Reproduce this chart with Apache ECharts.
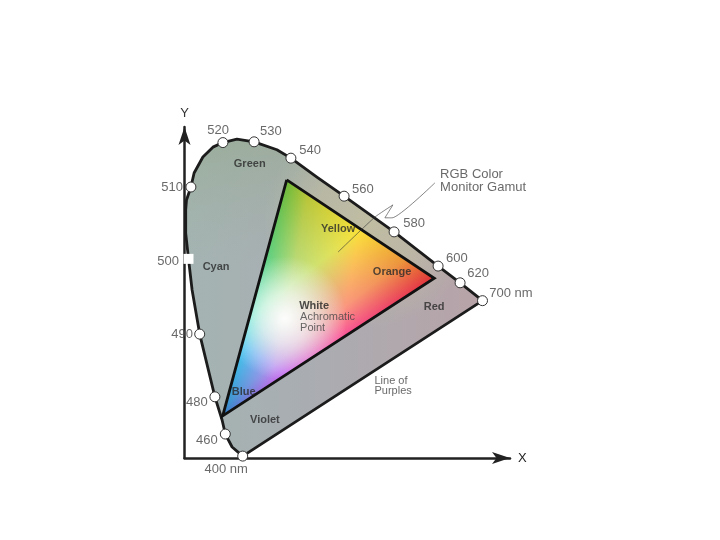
<!DOCTYPE html>
<html>
<head>
<meta charset="utf-8">
<style>
  html, body { margin: 0; padding: 0; background: #fff; }
  #chart { width: 720px; height: 540px; }
</style>
<script src="https://cdn.jsdelivr.net/npm/echarts@6/dist/echarts.min.js"></script>
</head>
<body>
<div id="chart"></div>
<script>
// spectral locus outline
const locusX = [0.1455, 0.119, 0.102, 0.094, 0.076, 0.038, 0.019, 0.010, 0.003, 0.003, 0.005, 0.016, 0.024, 0.046, 0.071, 0.096, 0.131, 0.174, 0.231, 0.266, 0.331, 0.399, 0.524, 0.634, 0.689, 0.745]
const locusY = [0.005, 0.029, 0.063, 0.100, 0.161, 0.326, 0.442, 0.524, 0.592, 0.653, 0.679, 0.713, 0.750, 0.792, 0.818, 0.830, 0.839, 0.832, 0.811, 0.789, 0.739, 0.689, 0.595, 0.505, 0.461, 0.414]

// wavelength markers
const markerX = [0.1455, 0.102, 0.076, 0.038, 0.010, 0.016, 0.096, 0.174, 0.266, 0.399, 0.524, 0.634, 0.689, 0.745]
const markerY = [0.005, 0.063, 0.161, 0.326, 0.524, 0.713, 0.830, 0.832, 0.789, 0.689, 0.595, 0.505, 0.461, 0.414]

// monitor gamut corners: green, red, blue, and the white point
const gamutX = [0.2555, 0.6245, 0.0955]
const gamutY = [0.732, 0.473, 0.111]
const whitePoint = [0.251, 0.368]

const tickNames = ['400 nm', '460', '480', '490', '500', '510', '520', '530', '540', '560', '580', '600', '620', '700 nm']
const tickX = [0.104, 0.056, 0.031, -0.006, -0.041, -0.031, 0.084, 0.216, 0.314, 0.446, 0.574, 0.681, 0.734, 0.816]
const tickY = [-0.029, 0.047, 0.146, 0.324, 0.516, 0.711, 0.863, 0.859, 0.809, 0.708, 0.616, 0.526, 0.487, 0.434]

const regionNames = ['Green', 'Cyan', 'Yellow', 'Orange', 'Red', 'Blue', 'Violet']
const regionX = [0.163, 0.079, 0.384, 0.519, 0.624, 0.148, 0.201]
const regionY = [0.774, 0.503, 0.603, 0.489, 0.397, 0.174, 0.100]

const noteNames = ['Achromatic', 'Point', 'Line of', 'Purples']
const noteX = [0.289, 0.289, 0.475, 0.475]
const noteY = [0.371, 0.342, 0.203, 0.176]

const calloutNames = ['RGB Color', 'Monitor Gamut']
const calloutX = [0.639, 0.639]
const calloutY = [0.747, 0.713]

const leaderX = [0.384, 0.476, 0.521, 0.501, 0.519, 0.626]
const leaderY = [0.542, 0.634, 0.666, 0.632, 0.632, 0.724]

const zip = (xs, ys) => xs.map((x, i) => [x, ys[i]])
const closed = pts => pts.concat([pts[0]])
const FONT = '"Liberation Sans", Arial, sans-serif'

// linear gradient running from vertex v to the line through a and b
function rampTo(v, a, b, stops) {
  const dx = b[0] - a[0], dy = b[1] - a[1]
  const k = ((v[0] - a[0]) * dx + (v[1] - a[1]) * dy) / (dx * dx + dy * dy)
  const foot = [a[0] + k * dx, a[1] + k * dy]
  return {
    type: 'linear', global: true,
    x: v[0], y: v[1], x2: foot[0], y2: foot[1],
    colorStops: stops.map(s => ({ offset: s[0], color: s[1] }))
  }
}

function renderHull(params, api) {
  const hull = zip(locusX, locusY).map(p => api.coord(p))
  const poly = style => ({ type: 'polygon', shape: { points: hull }, style })
  const left = api.coord([0, 0]), right = api.coord([0.75, 0.85])
  const tint = api.coord([0.46, 0.62])
  return {
    type: 'group',
    children: [
      poly({ fill: { type: 'linear', global: true, x: left[0], y: 0, x2: right[0], y2: 0,
        colorStops: [{ offset: 0, color: '#a4b4b2' }, { offset: 0.4, color: '#a9adb2' }, { offset: 1, color: '#b8a3a8' }] } }),
      poly({ fill: { type: 'linear', global: true, x: 0, y: right[1], x2: 0, y2: right[1] + 130,
        colorStops: [{ offset: 0, color: 'rgba(148,170,140,0.6)' }, { offset: 1, color: 'rgba(160,178,165,0)' }] } }),
      poly({ fill: { type: 'radial', global: true, x: tint[0], y: tint[1], r: 105,
        colorStops: [{ offset: 0, color: 'rgba(195,192,160,0.85)' }, { offset: 0.55, color: 'rgba(195,190,162,0.6)' }, { offset: 1, color: 'rgba(190,190,165,0)' }] } })
    ]
  }
}

// one additive layer of the gamut triangle, per primary.
// edgeA/edgeB are the data points the ramp runs out to
function gamutLayer(cornerIdx, edgeA, edgeB, stops) {
  return (params, api) => {
    const tri = zip(gamutX, gamutY).map(p => api.coord(p))
    return {
      type: 'polygon',
      shape: { points: tri },
      style: { fill: rampTo(tri[cornerIdx], api.coord(edgeA), api.coord(edgeB), stops) }
    }
  }
}

function gamutSeries(renderItem, blendMode) {
  return { type: 'custom', clip: false, silent: true, z: 3, blendMode, renderItem, data: [[0, 0]] }
}

function labelSeries(names, xs, ys, label) {
  return {
    type: 'scatter', clip: false, silent: true, symbolSize: 0, z: 8,
    data: names.map((n, i) => ({ name: n, value: [xs[i], ys[i]] })),
    label: Object.assign({
      show: true, position: 'inside', formatter: '{b}',
      fontFamily: FONT
    }, label)
  }
}

const G = [gamutX[0], gamutY[0]], R = [gamutX[1], gamutY[1]], B = [gamutX[2], gamutY[2]]

const chart = echarts.init(document.getElementById('chart'))
chart.setOption({
  animation: false,
  backgroundColor: '#fff',
  grid: { left: 184.5, top: 127, width: 325.5, height: 331 },
  xAxis: {
    type: 'value', min: 0, max: 0.81375,
    name: 'X', nameGap: 8, nameTextStyle: { color: '#222', fontSize: 13, fontFamily: FONT },
    splitLine: { show: false }, axisTick: { show: false }, axisLabel: { show: false },
    axisLine: { show: true, symbol: ['none', 'arrow'], symbolSize: [9, 18], lineStyle: { color: '#222', width: 2.5 } }
  },
  yAxis: {
    type: 'value', min: 0, max: 0.871,
    name: 'Y', nameGap: 7, nameTextStyle: { color: '#333', fontSize: 13, fontFamily: FONT },
    splitLine: { show: false }, axisTick: { show: false }, axisLabel: { show: false },
    axisLine: { show: true, symbol: ['none', 'arrow'], symbolSize: [9, 18], lineStyle: { color: '#222', width: 2.5 } }
  },
  series: [
    { type: 'custom', clip: false, silent: true, z: 2, renderItem: renderHull, data: [[0, 0]] },
    gamutSeries((params, api) => ({
      type: 'polygon',
      shape: { points: zip(gamutX, gamutY).map(p => api.coord(p)) },
      style: { fill: '#000' }
    })),
    // red, green, blue added together, then the pale blob at the white point
    gamutSeries(gamutLayer(1, B, [0.214, 0.758], [
      [0, 'rgb(225,0,0)'], [0.45, 'rgb(250,0,0)'], [0.77, 'rgb(185,0,0)'], [1, 'rgb(50,0,0)']]), 'lighter'),
    gamutSeries(gamutLayer(0, R, [0.096, 0.021], [
      [0, 'rgb(0,185,0)'], [0.5, 'rgb(0,225,0)'], [0.8, 'rgb(0,150,0)'], [1, 'rgb(0,50,0)']]), 'lighter'),
    gamutSeries(gamutLayer(2, G, R, [
      [0, 'rgb(0,0,200)'], [0.3, 'rgb(0,0,240)'], [0.5, 'rgb(0,0,170)'], [1, 'rgb(0,0,55)']]), 'lighter'),
    gamutSeries((params, api) => {
      const w = api.coord(whitePoint)
      return {
        type: 'polygon',
        shape: { points: zip(gamutX, gamutY).map(p => api.coord(p)) },
        style: { fill: { type: 'radial', global: true, x: w[0], y: w[1], r: 62,
          colorStops: [{ offset: 0, color: 'rgba(255,255,255,0.97)' }, { offset: 0.4, color: 'rgba(255,255,255,0.65)' }, { offset: 1, color: 'rgba(255,255,255,0)' }] } }
      }
    }),
    {
      type: 'line', silent: true, z: 4, showSymbol: false, clip: false,
      lineStyle: { color: '#1c1c1c', width: 2.8, join: 'round' },
      data: closed(zip(locusX, locusY))
    },
    {
      type: 'line', silent: true, z: 4, showSymbol: false, clip: false,
      lineStyle: { color: '#111', width: 2.8, join: 'miter' },
      data: closed(zip(gamutX, gamutY))
    },
    {
      type: 'line', silent: true, z: 5, showSymbol: false, clip: false, smooth: 0.15,
      lineStyle: { color: '#333', width: 0.6 },
      data: zip(leaderX, leaderY)
    },
    {
      type: 'scatter', silent: true, z: 6, clip: false, symbolSize: 10,
      itemStyle: { color: '#fff', borderColor: '#333', borderWidth: 1, opacity: 1 },
      data: markerX.map((x, i) => i === 4
        ? { value: [x, markerY[i]], symbol: 'rect', itemStyle: { borderWidth: 0 } }
        : [x, markerY[i]])
    },
    labelSeries(tickNames, tickX, tickY, { color: '#444', fontSize: 13 }),
    labelSeries(regionNames, regionX, regionY, { color: '#2a2a2a', fontSize: 11, fontWeight: 'bold' }),
    labelSeries(['White'], [0.324], [0.400], { color: '#222', fontSize: 11, fontWeight: 'bold' }),
    labelSeries(noteNames, noteX, noteY, { color: '#444', fontSize: 11, position: 'right', distance: 0 }),
    labelSeries(calloutNames, calloutX, calloutY, { color: '#444', fontSize: 13, position: 'right', distance: 0 })
  ]
})
</script>
</body>
</html>
